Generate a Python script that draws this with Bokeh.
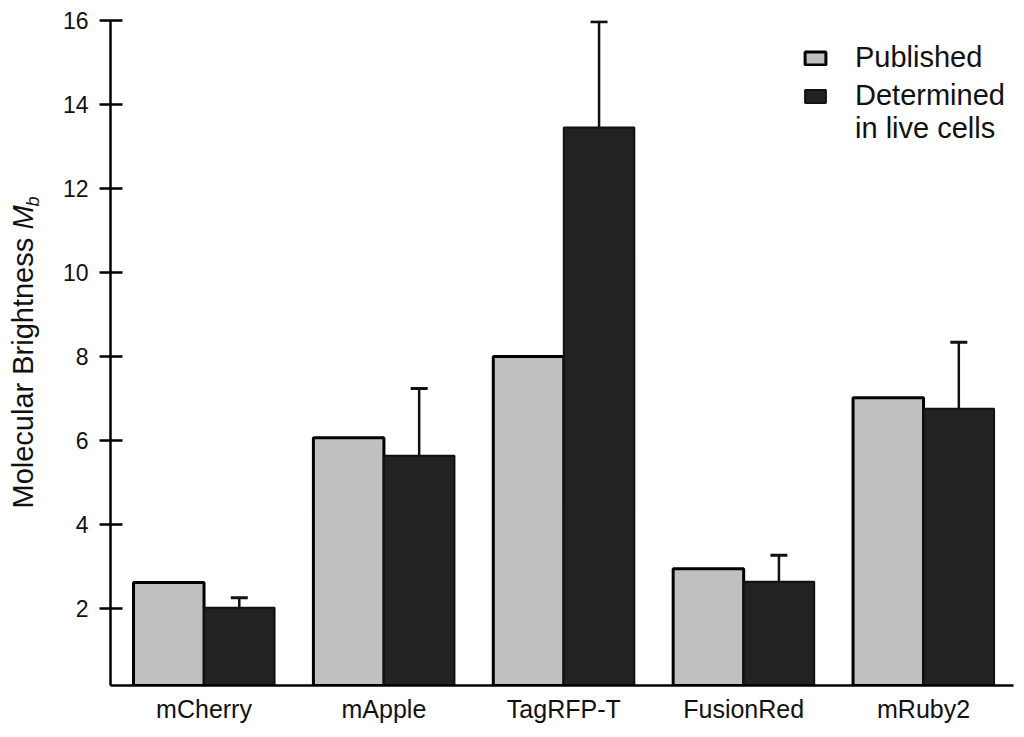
import math
from bokeh.plotting import figure
from bokeh.layouts import row
from bokeh.models import (ColumnDataSource, Range1d, FixedTicker, Whisker, TeeHead,
                          Legend, LegendItem, Label)
from bokeh.embed import file_html
from bokeh.resources import INLINE

categories = ["mCherry", "mApple", "TagRFP-T", "FusionRed", "mRuby2"]
published = [2.62, 6.07, 8.0, 2.95, 7.02]
determined = [2.02, 5.64, 13.45, 2.64, 6.76]
determined_err = [0.24, 1.60, 2.52, 0.63, 1.58]
y_ticks = [2, 4, 6, 8, 10, 12, 14, 16]

FONT = "Liberation Sans"
BAR_W = 0.392
OFF = BAR_W / 2
TOTAL_H = 729
LABEL_W = 56

idx = list(range(len(categories)))
src = ColumnDataSource(dict(
    xp=[i - OFF for i in idx],
    xd=[i + OFF for i in idx],
    pub=published,
    det=determined,
    upper=[d + e for d, e in zip(determined, determined_err)],
))

p = figure(frame_width=903, frame_height=665, x_range=Range1d(-0.52, 4.5),
           y_range=Range1d(0.17, 16.0), output_backend="svg", toolbar_location=None,
           min_border_left=110 - LABEL_W, min_border_right=3, min_border_top=20,
           min_border_bottom=44)
p.outline_line_color = None
p.grid.visible = False
p.background_fill_color = "white"

r_pub = p.vbar(x="xp", top="pub", bottom=0, width=BAR_W, source=src,
               fill_color="#c0c0c0", line_color="black", line_width=3)
r_det = p.vbar(x="xd", top="det", bottom=0, width=BAR_W, source=src,
               fill_color="#222222", line_color="#111111", line_width=2)

wh = Whisker(base="xd", lower="det", upper="upper", source=src,
             line_color="#111111", line_width=2.5, level="annotation",
             upper_head=TeeHead(size=17, line_color="#111111", line_width=3),
             lower_head=None)
p.add_layout(wh)

# x axis
xa = p.xaxis[0]
xa.ticker = FixedTicker(ticks=idx)
xa.major_label_overrides = {i: c for i, c in zip(idx, categories)}
xa.major_tick_line_color = None
xa.minor_tick_line_color = None
xa.axis_line_width = 2.5
xa.axis_line_color = "black"
xa.major_label_text_font = FONT
xa.major_label_text_font_size = "25px"
xa.major_label_text_color = "#111111"
xa.major_label_standoff = 3

# y axis
ya = p.yaxis[0]
ya.ticker = FixedTicker(ticks=y_ticks)
ya.minor_tick_line_color = None
ya.major_tick_in = 12
ya.major_tick_out = 11
ya.major_tick_line_width = 2.5
ya.major_tick_line_color = "black"
ya.axis_line_width = 2.5
ya.axis_line_color = "black"
ya.major_label_text_font = FONT
ya.major_label_text_font_size = "23px"
ya.major_label_text_color = "#111111"
ya.major_label_standoff = 11

legend = Legend(items=[LegendItem(label="Published", renderers=[r_pub]),
                       LegendItem(label="Determined", renderers=[r_det])],
                location=(692, 573), label_text_font=FONT, label_text_font_size="29px",
                label_text_color="#111111", glyph_width=26, glyph_height=16,
                label_standoff=27, spacing=5, padding=0, margin=0,
                border_line_alpha=0, background_fill_alpha=0)
p.add_layout(legend)
p.add_layout(Label(x=3.619, y=13.45, text="in live cells", text_font=FONT,
                   text_font_size="29px", text_align="left", text_baseline="middle",
                   text_color="#111111"))

# y axis title panel (rich text: italic M with subscript b)
lab = figure(width=LABEL_W, height=TOTAL_H, x_range=Range1d(0, LABEL_W),
             y_range=Range1d(TOTAL_H, 0), output_backend="svg", toolbar_location=None,
             x_axis_location=None, y_axis_location=None,
             min_border_left=0, min_border_right=0, min_border_top=0, min_border_bottom=0)
lab.outline_line_color = None
lab.grid.visible = False
lab.add_layout(Label(x=22, y=535, text="Molecular Brightness", angle=math.pi / 2,
                     text_font=FONT, text_font_size="29px",
                     text_align="left", text_baseline="alphabetic", text_color="#111111"))
lab.add_layout(Label(x=22, y=229, text="M", angle=math.pi / 2,
                     text_font=FONT, text_font_size="29px", text_font_style="italic",
                     text_align="left", text_baseline="alphabetic", text_color="#111111"))
lab.add_layout(Label(x=32, y=204, text="b", angle=math.pi / 2,
                     text_font=FONT, text_font_size="18px", text_font_style="italic",
                     text_align="left", text_baseline="alphabetic", text_color="#111111"))

layout = row(lab, p)
open("out.html", "w").write(file_html(layout, INLINE))
